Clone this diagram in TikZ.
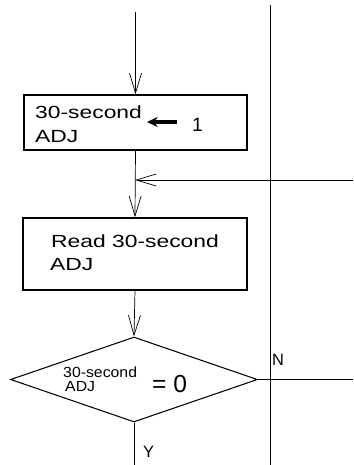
\documentclass[tikz,border=0pt]{standalone}
\usepackage{fontspec}
\setmainfont{Liberation Sans}
\newfontfamily\boxfont[FakeStretch=1.3]{Liberation Sans}
\newfontfamily\diafont[FakeStretch=1.08]{Liberation Sans}
\usepackage{tikz}
\usetikzlibrary{shapes.geometric, arrows.meta, positioning, calc}

\begin{document}
\begin{tikzpicture}[x=0.03cm, y=-0.03cm,
    procbox/.style={draw, line width=1.2pt, rectangle, inner sep=0pt},
    decbox/.style={draw, line width=0.9pt, diamond, inner sep=0pt, minimum width=7.41cm, minimum height=2.55cm},
    flow/.style={line width=0.6pt, -{Straight Barb[length=0.6cm, width=0.36cm]}},
    wire/.style={line width=0.6pt},
    boxtxt/.style={anchor=base west, inner sep=0pt, font=\boxfont\fontsize{15}{18}\selectfont},
    diatxt/.style={anchor=base west, inner sep=0pt, font=\diafont\fontsize{12.5}{15}\selectfont},
    lbl/.style={anchor=base west, inner sep=0pt, font=\fontsize{14}{16}\selectfont}]
      \useasboundingbox (0,0) rectangle (353,465);

      % Boxes
      \node[procbox, minimum width=6.69cm, minimum height=1.65cm] (setadj) at (135.5,122.5) {};
      \node[boxtxt] (setadja) at (35,118) {30-second};
      \node[boxtxt] (setadjb) at (35,142) {ADJ};
      \node[anchor=base west, inner sep=0pt, font=\fontsize{16.5}{18}\selectfont] (one) at (192,131) {1};
      \coordinate (assignfrom) at (177,122);
      \coordinate (assignto) at (147,122);
      \draw[line width=2.6pt, -{Stealth[length=0.32cm, width=0.3cm]}] (assignfrom) -- (assignto);

      \node[procbox, minimum width=6.72cm, minimum height=2.16cm] (readadj) at (135,254) {};
      \node[boxtxt] (readadja) at (51,247) {Read 30-second};
      \node[boxtxt] (readadjb) at (50,270) {ADJ};

      % Decision
      \node[decbox] (check) at (134,379.5) {};
      \node[diatxt] (checka) at (63,377.5) {30-second};
      \node[diatxt] (checkb) at (65,391.5) {ADJ};
      \node[anchor=base west, inner sep=0pt, font=\fontsize{21}{24}\selectfont] (checkc) at (152,392.5) {= 0};

      % Connectors
      \coordinate (top) at (135.5,12);
      \coordinate (mergein) at (353,180);
      \coordinate (merge) at (135,180);
      \draw[flow] (top) -- (setadj.north);
      \draw[flow] (setadj.south) -- (readadj.north);
      \draw[flow] (mergein) -- (merge);
      \draw[flow] (readadj.south) -- (check.north);

      % Exits
      \coordinate (railtop) at (270,5);
      \coordinate (railbot) at (270,465);
      \draw[wire] (railtop) -- (railbot);
      \coordinate (noexit) at (353,379.5);
      \draw[wire] (check.east) -- (noexit);
      \node[lbl] (nolbl) at (272,365) {N};
      \coordinate (yesexit) at (134,465);
      \draw[wire] (check.south) -- (yesexit);
      \node[lbl] (yeslbl) at (143,457) {Y};
\end{tikzpicture}
\end{document}
